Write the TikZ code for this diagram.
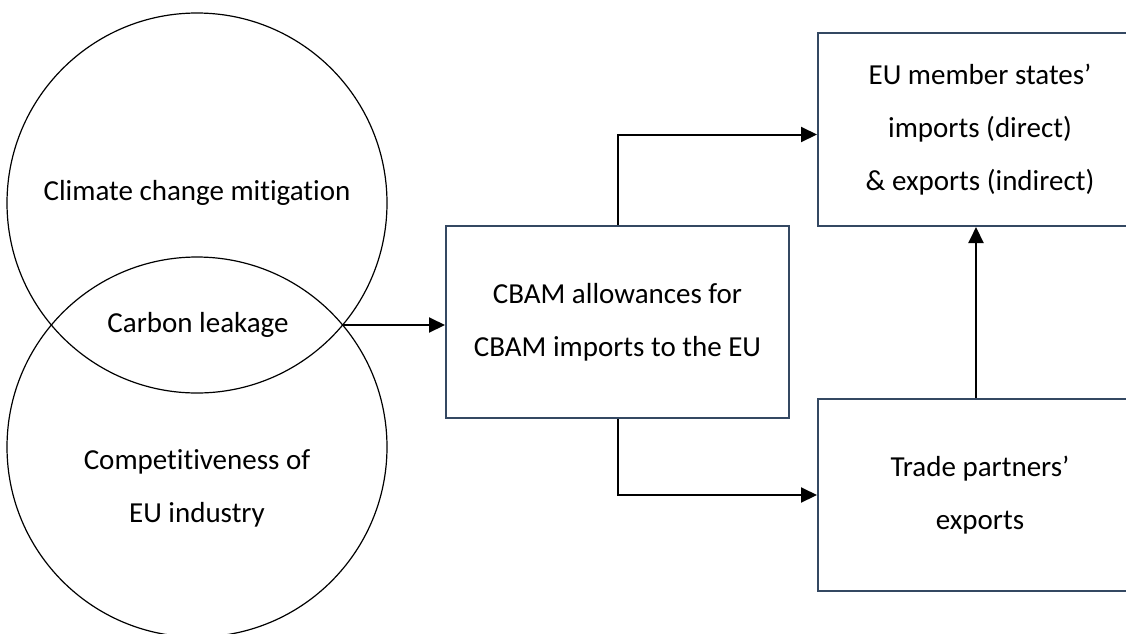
\documentclass[tikz,border=0pt]{standalone}
\usepackage{fontspec}
\setmainfont{Carlito}[Ligatures=NoCommon]
\usetikzlibrary{arrows.meta,positioning,calc}
\definecolor{boxline}{RGB}{52,72,98}
\tikzset{
  ring/.style={circle,draw,line width=1.2pt,minimum size=380pt,inner sep=0pt},
  lbl/.style ={align=center,inner sep=0pt,font=\fontsize{29}{53}\selectfont},
  box/.style ={rectangle,draw=boxline,line width=2pt,align=center,inner sep=0pt,
               minimum width=324pt,minimum height=192pt,font=\fontsize{29}{53}\selectfont},
  ar/.style  ={-{Triangle[length=16pt,width=15pt]},line width=2pt},
}
\begin{document}
\begin{tikzpicture}[x=1pt,y=-1pt]
  \useasboundingbox (0,0) rectangle (1126,633);
  % two overlapping circles
  \node[ring] (mitig)  at (197,203) {};
  \node[ring] (compet) at (197,447) {};
  \node[lbl] (mitigtxt)  at (197,193) {Climate change mitigation};
  \node[lbl] (leaktxt)   at (198,325) {Carbon leakage};
  \node[lbl] (compettxt) at (197,488) {Competitiveness of\\ EU industry};
  \coordinate (leak) at (342.6,325);
  % boxes
  \node[box,minimum width=343pt] (cbam)  at (617.5,322) {CBAM allowances for\\ CBAM imports to the EU};
  \node[box,minimum height=193pt] (eu)   at (980,129.5) {EU member states’\\ imports (direct)\\ \& exports (indirect)};
  \node[box] (trade) at (980,495) {Trade partners’\\ exports};
  % connectors
  \draw[ar] (leak) -- (leak -| cbam.west);
  \draw[ar] (cbam.north) |- ([yshift=-5pt]eu.west);
  \draw[ar] (cbam.south) |- (trade.west);
  \draw[ar] ([xshift=-4pt]trade.north) -- ([xshift=-4pt]eu.south);
\end{tikzpicture}
\end{document}
